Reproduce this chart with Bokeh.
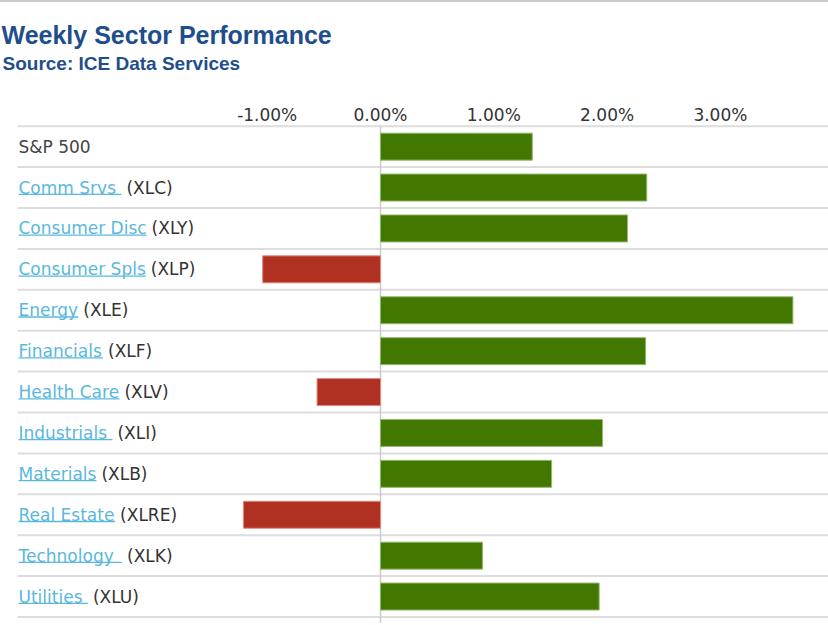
from bokeh.plotting import figure
from bokeh.models import Range1d, FixedTicker, Title, LinearAxis
from bokeh.core.properties import value
from bokeh.embed import file_html
from bokeh.resources import INLINE

# ---------------- data ----------------
link_names = ["", "Comm Srvs ", "Consumer Disc", "Consumer Spls", "Energy", "Financials",
              "Health Care", "Industrials ", "Materials", "Real Estate", "Technology ", "Utilities "]
tickers = ["S&P 500", "(XLC)", "(XLY)", "(XLP)", "(XLE)", "(XLF)",
           "(XLV)", "(XLI)", "(XLB)", "(XLRE)", "(XLK)", "(XLU)"]
changes = [1.34, 2.35, 2.18, -1.04, 3.64, 2.34, -0.56, 1.96, 1.51, -1.21, 0.90, 1.93]
tick_values = [-1, 0, 1, 2, 3]
tick_labels = ["-1.00%", "0.00%", "1.00%", "2.00%", "3.00%"]
title_text = "Weekly Sector Performance"
subtitle_text = "Source: ICE Data Services"

# ---------------- layout constants ----------------
TOP_RULE = 2
W, H = 828, 625 - TOP_RULE
PPU = 113.3                  # pixels per 1 %
ZERO_PX = 380.0              # pixel of 0 %
ROW_PX = 40.9                # row height in pixels
HEAD_PX = 125.7 - TOP_RULE   # pixel of the header line (inside the figure)
FRAME_TOP = 122
FS = 17                      # label font size px
GAP_PX = 28                  # space between tick labels and the subtitle

XS = -ZERO_PX / PPU
XE = (W - ZERO_PX) / PPU
Y_TOP = -0.5 - (HEAD_PX - FRAME_TOP) / ROW_PX
Y_BOT = -0.5 + (H - HEAD_PX) / ROW_PX

# DejaVu Sans advance widths (units per em 2048)
DV = {' ': 651, 'C': 1430, 'D': 1577, 'E': 1294, 'F': 1178, 'H': 1540, 'I': 604,
      'M': 1767, 'R': 1423, 'S': 1300, 'T': 1251, 'U': 1499, 'a': 1255, 'c': 1126,
      'd': 1300, 'e': 1260, 'g': 1300, 'h': 1298, 'i': 569, 'l': 569, 'm': 1995,
      'n': 1298, 'o': 1253, 'p': 1300, 'r': 842, 's': 1067, 't': 803, 'u': 1298,
      'v': 1212, 'y': 1212}


def text_px(s, size):
    return sum(DV.get(ch, 1250) for ch in s) / 2048.0 * size


rows = list(range(len(changes)))

p = figure(width=W, height=H, x_range=Range1d(XS, XE), y_range=Range1d(Y_BOT, Y_TOP),
           x_axis_location="above", y_axis_location=None, toolbar_location=None,
           output_backend="svg", min_border_left=0, min_border_right=0,
           min_border_bottom=0, min_border_top=FRAME_TOP, outline_line_color=None,
           background_fill_color="white", border_fill_color="white")
p.grid.visible = False
p.styles = {"border-top": "%dpx solid #cccccc" % TOP_RULE}

ax = p.xaxis[0]
ax.ticker = FixedTicker(ticks=tick_values)
ax.major_label_overrides = {float(t): l for t, l in zip(tick_values, tick_labels)}
ax.axis_line_color = None
ax.major_tick_line_color = None
ax.minor_tick_line_color = None
ax.major_tick_out = 0
ax.major_tick_in = 0
ax.major_label_standoff = 0
ax.major_label_text_font = "DejaVu Sans"
ax.major_label_text_font_size = "17px"
ax.major_label_text_color = "#333333"

# invisible spacer axis between the tick labels and the subtitle
spacer = LinearAxis(ticker=FixedTicker(ticks=[0.0]), axis_line_color=None,
                    major_tick_line_color=None, minor_tick_line_color=None,
                    major_tick_out=GAP_PX, major_tick_in=0, minor_tick_out=0,
                    major_label_standoff=0, major_label_overrides={0.0: ""},
                    major_label_text_font_size="1px", major_label_text_color=None)
p.add_layout(spacer, "above")

# row separator lines
line_x0 = XS + 17 / PPU
sep_y = [r - 0.5 for r in range(len(changes) + 1)]
p.segment(x0=[line_x0] * len(sep_y), y0=sep_y, x1=[XE] * len(sep_y), y1=sep_y,
          line_color="#dddddd", line_width=2)

# zero line
p.segment(x0=[0], y0=[-0.5], x1=[0], y1=[Y_BOT], line_color="#cccccc", line_width=1.5)

# bars
fills = ["#437800" if v >= 0 else "#b03122" for v in changes]
edges = ["#93bb70" if v >= 0 else "#e08a80" for v in changes]
p.hbar(y=rows, left=0, right=changes, height=0.66, fill_color=fills,
       line_color=edges, line_width=1)

# row labels
lx = XS + 18 / PPU
link_widths = [text_px(s, FS) for s in link_names]
tick_x = [lx + (w + 5) / PPU if w > 0 else lx for w in link_widths]
label_colors = ["#444444"] + ["#333333"] * (len(tickers) - 1)

p.text(x=[lx] * len(rows), y=rows, text=link_names, text_font=value("DejaVu Sans"),
       text_font_size=value("17px"), text_color="#5ab8dc", text_baseline="middle",
       text_align="left")
p.text(x=tick_x, y=rows, text=tickers, text_font=value("DejaVu Sans"),
       text_font_size=value("17px"), text_color=label_colors, text_baseline="middle",
       text_align="left")

# underlines
ul_rows = [r for r, w in zip(rows, link_widths) if w > 0]
ul_y = [r + 0.165 for r in ul_rows]
ul_x1 = [lx + link_widths[r] / PPU for r in ul_rows]
p.segment(x0=[lx] * len(ul_rows), y0=ul_y, x1=ul_x1, y1=ul_y,
          line_color="#5ab8dc", line_width=1.3)

# title & subtitle (subtitle first = closer to the frame)
p.add_layout(Title(text=subtitle_text, align="left", offset=2, standoff=0,
                   text_font="Liberation Sans", text_font_size="19px",
                   text_font_style="bold", text_color="#1f4e8c"), "above")
p.add_layout(Title(text=title_text, align="left", offset=1, standoff=3,
                   text_font="Liberation Sans", text_font_size="25px",
                   text_font_style="bold", text_color="#1f4e8c"), "above")

open("out.html", "w").write(file_html(p, INLINE))
